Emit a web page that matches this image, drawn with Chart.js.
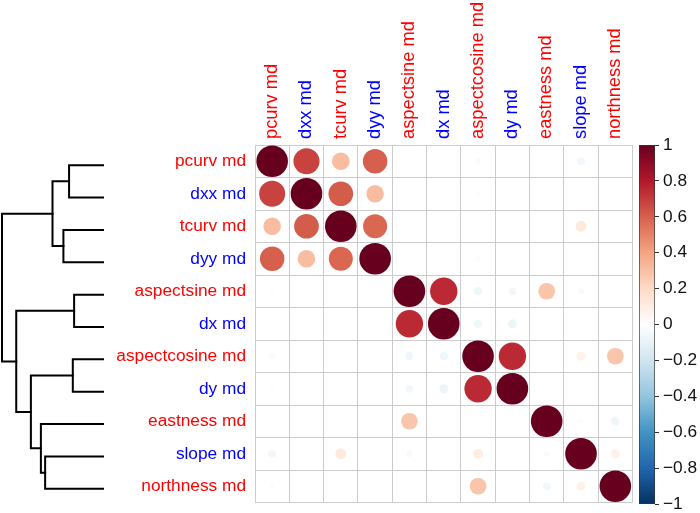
<!DOCTYPE html>
<html><head><meta charset="utf-8">
<script src="https://cdn.jsdelivr.net/npm/chart.js@4/dist/chart.umd.min.js"></script>
<style>
html,body{margin:0;padding:0;background:#fff;}
#wrap{position:relative;width:700px;height:513px;overflow:hidden;background:#fff;}
canvas{position:absolute;}
</style></head><body>
<div id="wrap">
<canvas id="matrix" width="700" height="523" style="left:0;top:0"></canvas>
<canvas id="dendro" width="106" height="356" style="left:0;top:149px"></canvas>
<canvas id="cbar" width="61" height="390" style="left:639px;top:130px"></canvas>
</div>
<script>
// ---- data ----
const varLabels = ['pcurv md','dxx md','tcurv md','dyy md','aspectsine md','dx md','aspectcosine md','dy md','eastness md','slope md','northness md'];
const labelColors = ['#FF0000','#0000FF','#FF0000','#0000FF','#FF0000','#0000FF','#FF0000','#0000FF','#FF0000','#0000FF','#FF0000'];

const corrPcurv        = [ 1.00, 0.68, 0.31, 0.60, 0.01, 0.01,-0.03,-0.01, 0.01,-0.06,-0.01];
const corrDxx          = [ 0.68, 1.00, 0.61, 0.31, 0.01, 0.00,-0.02,-0.01, 0.00, 0.01, 0.00];
const corrTcurv        = [ 0.31, 0.61, 1.00, 0.58, 0.01, 0.00, 0.00,-0.01, 0.01, 0.12,-0.01];
const corrDyy          = [ 0.60, 0.31, 0.58, 1.00, 0.01, 0.00,-0.02,-0.01, 0.01, 0.00, 0.00];
const corrAspectsine   = [-0.02,-0.01, 0.01, 0.00, 1.00, 0.75,-0.07,-0.06, 0.28,-0.04, 0.00];
const corrDx           = [ 0.00, 0.00, 0.00, 0.00, 0.75, 1.00,-0.07,-0.08, 0.01,-0.01, 0.00];
const corrAspectcosine = [-0.03,-0.01, 0.00,-0.01,-0.07,-0.07, 1.00, 0.75, 0.00, 0.08, 0.28];
const corrDy           = [-0.02,-0.01,-0.01, 0.00,-0.06,-0.08, 0.75, 1.00, 0.00, 0.00, 0.01];
const corrEastness     = [ 0.00, 0.00, 0.01, 0.00, 0.28, 0.01, 0.00, 0.00, 1.00,-0.02,-0.07];
const corrSlope        = [-0.06, 0.00, 0.12, 0.00,-0.04, 0.01, 0.10, 0.00,-0.03, 1.00, 0.08];
const corrNorthness    = [-0.02, 0.00, 0.00, 0.00, 0.00, 0.00, 0.28, 0.01,-0.06, 0.08, 1.00];
const corrRows = [corrPcurv,corrDxx,corrTcurv,corrDyy,corrAspectsine,corrDx,corrAspectcosine,corrDy,corrEastness,corrSlope,corrNorthness];

// hierarchical clustering merges (R hclust convention: negative = leaf, positive = earlier merge)
const dendroLeft   = [-5, -7, -1, -3, 3, -10, -9, 2, 1, 5];
const dendroRight  = [-6, -8, -2, -4, 4, -11,  6, 7, 8, 9];
const dendroHeight = [0.286, 0.299, 0.336, 0.392, 0.500, 0.573, 0.615, 0.714, 0.859, 1.000];

const colorbarTicks  = [1, 0.8, 0.6, 0.4, 0.2, 0, -0.2, -0.4, -0.6, -0.8, -1];
const colorbarLabels = ['1','0.8','0.6','0.4','0.2','0','\u22120.2','\u22120.4','\u22120.6','\u22120.8','\u22121'];

// ---- style ----
const paletteStops = ['#67001F','#B2182B','#D6604D','#F4A582','#FDDBC7','#FFFFFF','#D1E5F0','#92C5DE','#4393C3','#2166AC','#053061']; // from +1 to -1
const FONT = "'Liberation Sans', Arial, Helvetica, sans-serif";
const MAX_R = 15.8;

function hexRgb(h){ return [parseInt(h.slice(1,3),16),parseInt(h.slice(3,5),16),parseInt(h.slice(5,7),16)]; }
function corrColor(v){
  const t = Math.max(0, Math.min(10, (1 - v) / 2 * 10));
  const i = Math.min(9, Math.floor(t)), f = t - i;
  const a = hexRgb(paletteStops[i]), b = hexRgb(paletteStops[i+1]);
  const c = a.map((x,k)=>Math.round(x + (b[k]-x)*f));
  return 'rgb(' + c.join(',') + ')';
}

// ---- matrix ----
const points = [];
corrRows.forEach((row, i) => row.forEach((v, j) => points.push({x: varLabels[j], y: varLabels[i], v: v})));

new Chart(document.getElementById('matrix'), {
  type: 'bubble',
  data: { datasets: [{
    data: points,
    radius: ctx => MAX_R * Math.sqrt(Math.abs(ctx.raw ? ctx.raw.v : 0)),
    backgroundColor: ctx => corrColor(ctx.raw ? ctx.raw.v : 0),
    borderWidth: 0, hoverRadius: 0, hoverBorderWidth: 0
  }]},
  options: {
    responsive: false, animation: false, events: [],
    layout: { padding: { left: 0, top: 0, right: 67.5, bottom: 20.5 } },
    plugins: { legend: { display: false }, tooltip: { enabled: false } },
    scales: {
      x: {
        type: 'category', labels: varLabels, position: 'top', offset: true,
        grid: { offset: true, color: '#cccccc', lineWidth: 1, drawTicks: false },
        border: { color: '#cccccc', width: 1 },
        ticks: { autoSkip: false, minRotation: 90, maxRotation: 90, padding: 6, labelOffset: 21.7,
                 color: ctx => labelColors[ctx.index], font: { family: FONT, size: 18.3 } },
        afterFit: s => { s.height = 145; }
      },
      y: {
        type: 'category', labels: varLabels, position: 'left', offset: true,
        grid: { offset: true, color: '#cccccc', lineWidth: 1, drawTicks: false },
        border: { color: '#cccccc', width: 1 },
        ticks: { autoSkip: false, padding: 9,
                 color: ctx => labelColors[ctx.index], font: { family: FONT, size: 17.3 } },
        afterFit: s => { s.width = 255; }
      }
    }
  }
});

// ---- dendrogram ----
const nodeY = [], nodeH = [];
function childPos(id){
  if (id < 0) return { y: -id - 1, h: 0 };
  return { y: nodeY[id-1], h: nodeH[id-1] };
}
const dendroSets = dendroHeight.map((h, k) => {
  const a = childPos(dendroLeft[k]), b = childPos(dendroRight[k]);
  nodeY[k] = (a.y + b.y) / 2; nodeH[k] = h;
  return {
    data: [{x: a.h, y: a.y}, {x: h, y: a.y}, {x: h, y: b.y}, {x: b.h, y: b.y}],
    showLine: true, borderColor: '#000', borderWidth: 2, pointRadius: 0,
    borderJoinStyle: 'miter', borderCapStyle: 'square', clip: false, tension: 0
  };
});
new Chart(document.getElementById('dendro'), {
  type: 'scatter',
  data: { datasets: dendroSets },
  options: {
    responsive: false, animation: false, events: [],
    layout: { padding: { left: 2, right: 3, top: 0, bottom: 0 } },
    plugins: { legend: { display: false }, tooltip: { enabled: false } },
    scales: {
      x: { type: 'linear', min: 0, max: 1, reverse: true, display: false },
      y: { type: 'linear', min: -0.5, max: 10.5, reverse: true, display: false }
    }
  }
});

// ---- colour bar ----
new Chart(document.getElementById('cbar'), {
  type: 'bar',
  data: { labels: ['r'], datasets: [{
    data: [[-1, 1]],
    backgroundColor: ctx => {
      const ch = ctx.chart;
      if (!ch.chartArea) return '#fff';
      const y = ch.scales.y;
      const g = ch.ctx.createLinearGradient(0, y.getPixelForValue(1), 0, y.getPixelForValue(-1));
      paletteStops.forEach((c, i) => g.addColorStop(i / 10, c));
      return g;
    },
    borderColor: '#333', borderWidth: 1, borderSkipped: false,
    barPercentage: 1, categoryPercentage: 1
  }]},
  options: {
    responsive: false, animation: false, events: [],
    layout: { padding: { left: 0, right: 0, top: 15, bottom: 16 } },
    plugins: { legend: { display: false }, tooltip: { enabled: false } },
    scales: {
      x: { display: false },
      y: {
        position: 'right', min: -1, max: 1,
        afterBuildTicks: s => { s.ticks = colorbarTicks.map(v => ({ value: v })); },
        grid: { drawOnChartArea: false, drawTicks: true, tickLength: 4, color: '#333', lineWidth: 1 },
        border: { display: false },
        ticks: { padding: 4, color: '#111', font: { family: FONT, size: 17.3 },
                 callback: v => colorbarLabels[colorbarTicks.indexOf(v)] },
        afterFit: s => { s.width = 45; }
      }
    }
  }
});
</script>
</body></html>
